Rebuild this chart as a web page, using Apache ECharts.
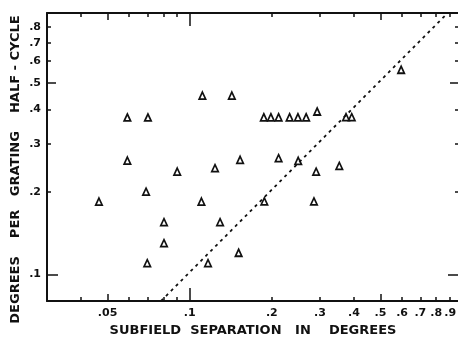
<!DOCTYPE html>
<html><head><meta charset="utf-8">
<script src="https://cdn.jsdelivr.net/npm/echarts@6/dist/echarts.min.js"></script>
<style>html,body{margin:0;padding:0;background:#fff}#c{width:458px;height:339px}</style>
</head><body><div id="c"></div>
<script>
// Subfield separation (deg) and degrees per grating half-cycle
const separation = [0.0465, 0.0591, 0.0703, 0.0591, 0.0692, 0.0900, 0.0805, 0.0805, 0.0699,
  0.1113, 0.1427, 0.1869, 0.1984, 0.2117, 0.2323, 0.2492, 0.2671, 0.2931,
  0.1238, 0.1530, 0.2117, 0.2498, 0.2906, 0.5953, 0.3739, 0.3924, 0.3533,
  0.1104, 0.1292, 0.1877, 0.2853, 0.1511, 0.1167];
const halfCycle = [0.1845, 0.374, 0.374, 0.2604, 0.2006, 0.2374, 0.1551, 0.130, 0.1099,
  0.4498, 0.4498, 0.3747, 0.3747, 0.3747, 0.3747, 0.3747, 0.3747, 0.3933,
  0.2443, 0.262, 0.2658, 0.2598, 0.2372, 0.5586, 0.3752, 0.3752, 0.2491,
  0.1845, 0.1551, 0.1848, 0.1848, 0.120, 0.1099];
const diagonalX = [0.0785, 0.882];
const diagonalY = [0.08, 0.9];

const xLabelTicks = [0.05, 0.1, 0.2, 0.3, 0.4, 0.5, 0.6, 0.7, 0.8, 0.9];
const xMinorTicks = [0.04, 0.06, 0.07, 0.08, 0.09, 0.2, 0.3, 0.4, 0.6, 0.7, 0.8, 0.9];
const xMidTicks = [0.05, 0.5];
const xMajorTicks = [0.1];
const yLabelTicks = [0.1, 0.2, 0.3, 0.4, 0.5, 0.6, 0.7, 0.8];
const yMinorTicks = [0.2, 0.3, 0.4, 0.6, 0.7, 0.8];
const yMidTicks = [0.5];
const yMajorTicks = [0.1];

const X_MIN = 0.03, X_MAX = 0.97, Y_MIN = 0.08, Y_MAX = 0.9;
const FONT = 'DejaVu Sans';
const INK = '#111';
const fmt = v => String(Number(Number(v).toPrecision(3))).replace(/^0/, '');

function axis(kind, position, ticks, len, opts) {
  opts = opts || {};
  const a = {
    type: 'log', logBase: 10, position: position,
    min: kind === 'x' ? X_MIN : Y_MIN, max: kind === 'x' ? X_MAX : Y_MAX,
    splitLine: { show: false },
    axisLine: { show: !!opts.line, onZero: false, lineStyle: { color: INK, width: 2 } },
    axisTick: { show: true, inside: true, length: len, customValues: ticks,
      lineStyle: { color: INK, width: 1.5 } },
    axisLabel: { show: false }
  };
  if (opts.labels) {
    a.axisLabel = { show: true, customValues: opts.labels, formatter: fmt,
      margin: kind === 'x' ? 7 : 6, color: INK, fontFamily: FONT, fontWeight: 'bold', fontSize: 11 };
  }
  if (opts.name) {
    a.name = opts.name; a.nameLocation = 'middle'; a.nameGap = 23;
    a.nameTextStyle = { color: INK, fontFamily: FONT, fontWeight: 'bold', fontSize: 13 };
  }
  return a;
}

const xAxes = [
  axis('x', 'bottom', xMinorTicks, 4, { line: true, labels: xLabelTicks,
    name: 'SUBFIELD  SEPARATION   IN    DEGREES' }),
  axis('x', 'bottom', xMidTicks, 7),
  axis('x', 'bottom', xMajorTicks, 13),
  axis('x', 'top', xMinorTicks, 4, { line: true }),
  axis('x', 'top', xMidTicks, 7),
  axis('x', 'top', xMajorTicks, 13)
];
const yAxes = [
  axis('y', 'left', yMinorTicks, 4, { line: true, labels: yLabelTicks }),
  axis('y', 'left', yMidTicks, 9),
  axis('y', 'left', yMajorTicks, 11),
  axis('y', 'right', yMinorTicks, 4),
  axis('y', 'right', yMidTicks, 9),
  axis('y', 'right', yMajorTicks, 11)
];

const chart = echarts.init(document.getElementById('c'), null, { renderer: 'canvas' });
chart.setOption({
  animation: false,
  backgroundColor: '#fff',
  grid: { left: 47, top: 13, width: 412, height: 288, containLabel: false, outerBoundsMode: 'none' },
  xAxis: xAxes,
  yAxis: yAxes,
  graphic: [{
    type: 'text', left: 9, top: 'middle', rotation: Math.PI / 2,
    style: { text: 'DEGREES    PER   GRATING    HALF - CYCLE', fill: INK,
      font: 'bold 13px "DejaVu Sans"' }
  }],
  series: [
    {
      type: 'line', xAxisIndex: 0, yAxisIndex: 0,
      data: diagonalX.map((x, i) => [x, diagonalY[i]]),
      symbol: 'none', silent: true, clip: true,
      lineStyle: { color: INK, width: 1.8, type: [3, 4] }
    },
    {
      type: 'scatter', xAxisIndex: 0, yAxisIndex: 0,
      data: separation.map((x, i) => [x, halfCycle[i]]),
      symbol: 'triangle', symbolSize: [6.5, 7],
      itemStyle: { color: '#fff', borderColor: INK, borderWidth: 1.7, opacity: 1 }
    }
  ]
});
</script></body></html>
